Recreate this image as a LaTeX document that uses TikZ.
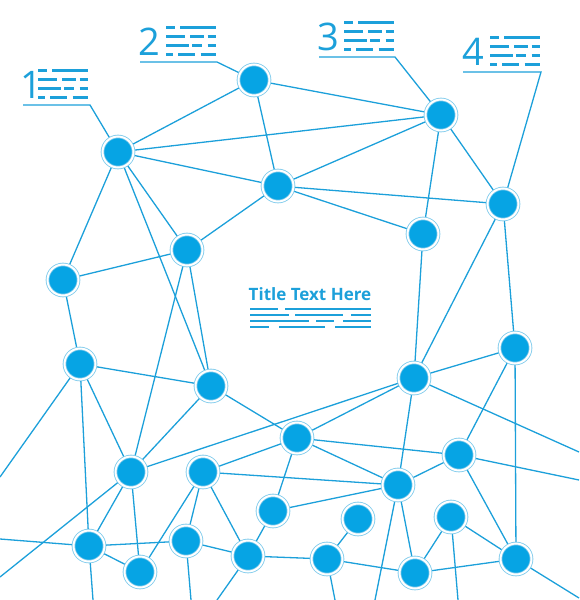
\documentclass[tikz,border=0pt]{standalone}
\usepackage{fontspec}
\setmainfont{Open Sans}
\usepackage{xcolor}
\usetikzlibrary{positioning}
\definecolor{netblue}{RGB}{28,160,218}
\definecolor{hubblue}{RGB}{6,164,228}
\definecolor{ringblue}{RGB}{120,200,235}
\pgfdeclarelayer{background}
\pgfsetlayers{background,main}
\begin{document}
\begin{tikzpicture}[x=1pt,y=-1pt,
    link/.style={draw=netblue, line width=1.3pt},
    bar/.style={draw=netblue, line width=3pt},
    thinbar/.style={draw=netblue, line width=2.6pt},
    hub/.style={circle, minimum size=31pt, inner sep=0pt, fill=hubblue, draw=ringblue, line width=0.8pt, double=white, double distance=2pt},
    digit/.style={anchor=base west, inner sep=0pt, text=netblue, font=\fontsize{38}{38}\selectfont}]
\useasboundingbox (0,0) rectangle (579,600);
\clip (0,0) rectangle (579,600);
\node[hub] (v1) at (118,152) {};
\node[hub] (v2) at (254,80) {};
\node[hub] (v3) at (441,115) {};
\node[hub] (v4) at (503,204) {};
\node[hub] (v5) at (278,186) {};
\node[hub] (v6) at (423,234) {};
\node[hub] (v7) at (187,250) {};
\node[hub] (v8) at (63,280) {};
\node[hub] (v9) at (80,364) {};
\node[hub] (v10) at (211,386) {};
\node[hub] (v11) at (515,348) {};
\node[hub] (v12) at (414,378) {};
\node[hub] (v13) at (297,438) {};
\node[hub] (v14) at (131,472) {};
\node[hub] (v15) at (203,472) {};
\node[hub] (v16) at (459,455) {};
\node[hub] (v17) at (398,485) {};
\node[hub] (v18) at (273,511) {};
\node[hub] (v19) at (358,519) {};
\node[hub] (v20) at (451,517) {};
\node[hub] (v21) at (89,546) {};
\node[hub] (v22) at (140,572) {};
\node[hub] (v23) at (186,541) {};
\node[hub] (v24) at (248,556) {};
\node[hub] (v25) at (327,559) {};
\node[hub] (v26) at (415,573) {};
\node[hub] (v27) at (516,559) {};
\coordinate (o1) at (0,477);
\coordinate (o2) at (0,577);
\coordinate (o3) at (0,539);
\coordinate (o4) at (93,600);
\coordinate (o5) at (191,600);
\coordinate (o6) at (217,600);
\coordinate (o7) at (335,600);
\coordinate (o8) at (375,600);
\coordinate (o9) at (458,600);
\coordinate (o10) at (579,598);
\coordinate (o11) at (579,452);
\coordinate (o12) at (579,480);
\coordinate (s1) at (23,105);
\coordinate (t1) at (90,105);
\coordinate (s2) at (140,62);
\coordinate (t2) at (217,62);
\coordinate (s3) at (319,57);
\coordinate (t3) at (395,57);
\coordinate (s4) at (463,72);
\coordinate (t4) at (541,72);
\begin{pgfonlayer}{background}
\foreach \a/\b in {1/2,1/3,1/5,1/7,1/8,1/10,2/3,2/5,3/4,3/5,3/6,4/5,4/11,4/12,5/6,5/7,6/12,7/8,7/10,7/14,8/9,9/10,9/14,9/21,10/13,10/14,11/12,11/16,11/27,12/13,12/14,12/17,13/15,13/16,13/17,13/18,14/21,14/22,15/17,15/22,15/23,15/24,16/17,16/27,17/18,17/26,18/24,19/25,20/26,20/27,21/22,21/23,23/24,24/25,25/26,26/27}
    \draw[link] (v\a) -- (v\b);
\foreach \a/\b in {9/1,14/2,21/3,21/4,23/5,24/6,25/7,17/8,20/9,27/10,12/11,16/12}
    \draw[link] (v\a) -- (o\b);
\foreach \i in {1,...,4}
    \draw[link] (s\i) -- (t\i) -- (v\i);
\end{pgfonlayer}
\node[digit] (d1) at (20,98) {1};
\node[digit] (d2) at (138,55) {2};
\node[digit] (d3) at (317,50) {3};
\node[digit] (d4) at (462,65) {4};
\foreach \lx/\ly in {38/105,166/62,344/57,490/72}
  \foreach \a/\b/\r in {0/8.5/35,14/50/35,0/19/26,24/38/26,41.5/50/26,0/22.5/17,26/36/17,41.5/50/17,0/7/8,12/29/8,34.5/50/8}
    \draw[bar] (\lx+\a,\ly-\r) -- (\lx+\b,\ly-\r);
\node[anchor=base, inner sep=0pt, text=netblue, font=\fontsize{17}{17}\selectfont\bfseries] (title) at (310,300) {Title Text Here};
\foreach \a/\b/\r in {250/278/309,285/371/309,250/289/315,295/343/315,351/371/315,250/309/321,316/334/321,343/371/321,250/269/327,279/325/327,335/371/327}
    \draw[thinbar] (\a,\r) -- (\b,\r);
\end{tikzpicture}
\end{document}
